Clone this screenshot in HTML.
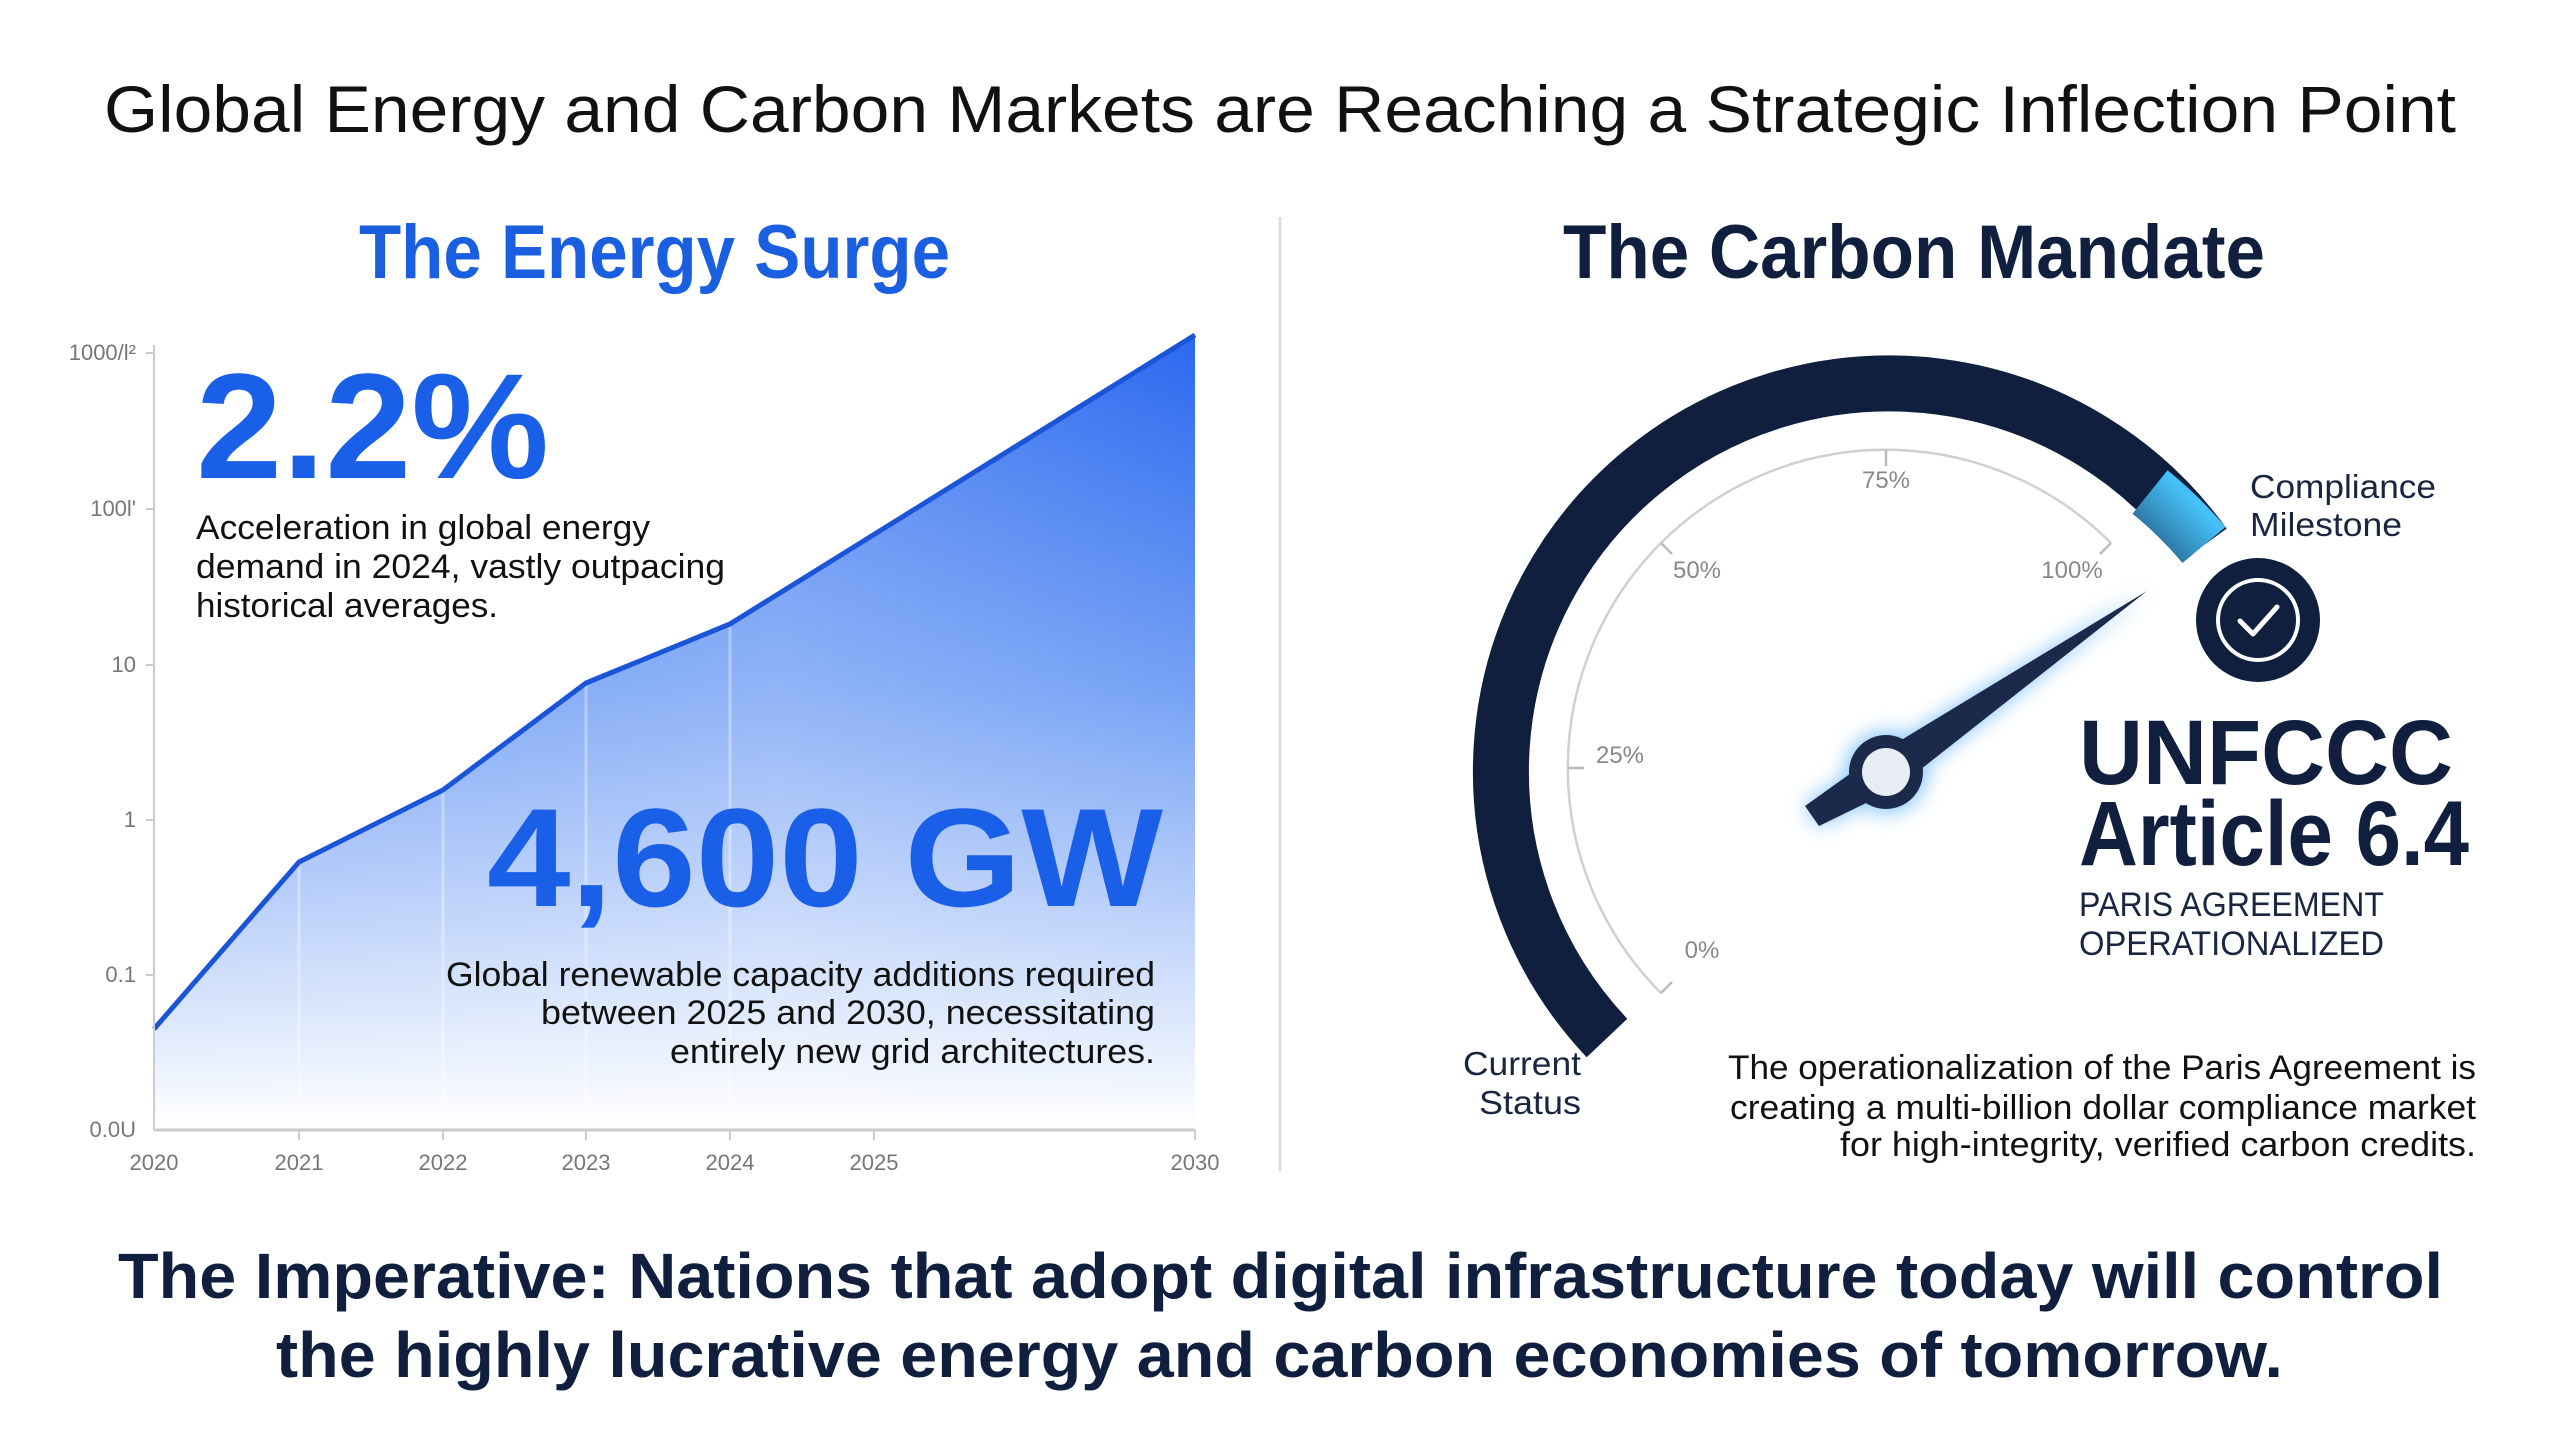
<!DOCTYPE html>
<html><head><meta charset="utf-8"><style>html,body{margin:0;padding:0;background:#fff}svg{display:block}</style></head>
<body>
<svg width="2560" height="1436" viewBox="0 0 2560 1436" xmlns="http://www.w3.org/2000/svg" font-family="'Liberation Sans', sans-serif">
<defs>
<linearGradient id="ag" x1="0" y1="335" x2="0" y2="1130" gradientUnits="userSpaceOnUse">
<stop offset="0" stop-color="#2a68ef"/><stop offset="0.45" stop-color="#76a2f5"/><stop offset="1" stop-color="#ffffff"/></linearGradient>
<linearGradient id="ah" x1="154" y1="0" x2="1195" y2="0" gradientUnits="userSpaceOnUse">
<stop offset="0" stop-color="#fff" stop-opacity="0"/><stop offset="0.6" stop-color="#fff" stop-opacity="0.2"/><stop offset="1" stop-color="#fff" stop-opacity="0"/></linearGradient>
<linearGradient id="cy" x1="2140" y1="610" x2="2220" y2="530" gradientUnits="userSpaceOnUse">
<stop offset="0" stop-color="#0f1f3d"/><stop offset="1" stop-color="#45c0f8"/></linearGradient>
<filter id="gl" x="-50%" y="-50%" width="200%" height="200%"><feGaussianBlur stdDeviation="10"/></filter>
</defs>
<rect width="2560" height="1436" fill="#fff"/>
<text x="1280" y="132" font-size="66" fill="#111" text-anchor="middle" textLength="2352" lengthAdjust="spacingAndGlyphs">Global Energy and Carbon Markets are Reaching a Strategic Inflection Point</text>
<line x1="1280" y1="217" x2="1280" y2="1171" stroke="#ddd" stroke-width="3"/>
<text x="359" y="278" font-size="76" font-weight="bold" fill="#1a5fe0" textLength="591" lengthAdjust="spacingAndGlyphs">The Energy Surge</text>
<text x="1563" y="278" font-size="76" font-weight="bold" fill="#0f1f3d" textLength="702" lengthAdjust="spacingAndGlyphs">The Carbon Mandate</text>

<polygon points="154,1029 299,862 443,790 586,683 730,624 1195,335 1195,1130 154,1130" fill="url(#ag)"/>
<polygon points="154,1029 299,862 443,790 586,683 730,624 1195,335 1195,1130 154,1130" fill="url(#ah)"/>
<g stroke="#fff" stroke-opacity="0.35" stroke-width="3">
<line x1="299" y1="862" x2="299" y2="1130"/><line x1="443" y1="790" x2="443" y2="1130"/><line x1="586" y1="683" x2="586" y2="1130"/><line x1="730" y1="624" x2="730" y2="1130"/></g>
<polyline points="154,1029 299,862 443,790 586,683 730,624 1195,335" fill="none" stroke="#1a55d8" stroke-width="5" stroke-linejoin="round"/>
<line x1="154" y1="345" x2="154" y2="1130" stroke="#ccc" stroke-width="2"/>
<line x1="154" y1="1130" x2="1195" y2="1130" stroke="#ccc" stroke-width="3"/>
<g stroke="#ccc" stroke-width="2">
<line x1="146" y1="353" x2="154" y2="353"/><line x1="146" y1="509" x2="154" y2="509"/><line x1="146" y1="665" x2="154" y2="665"/><line x1="146" y1="820" x2="154" y2="820"/><line x1="146" y1="975" x2="154" y2="975"/>
<line x1="299" y1="1130" x2="299" y2="1140"/><line x1="443" y1="1130" x2="443" y2="1140"/><line x1="586" y1="1130" x2="586" y2="1140"/><line x1="730" y1="1130" x2="730" y2="1140"/><line x1="874" y1="1130" x2="874" y2="1140"/><line x1="1195" y1="1130" x2="1195" y2="1140"/>
</g>
<g font-size="22" fill="#777" text-anchor="end">
<text x="136" y="360">1000/l²</text><text x="136" y="516">100l'</text><text x="136" y="672">10</text><text x="136" y="827">1</text><text x="136" y="982">0.1</text><text x="136" y="1137">0.0U</text></g>
<g font-size="22" fill="#777" text-anchor="middle">
<text x="154" y="1170">2020</text><text x="299" y="1170">2021</text><text x="443" y="1170">2022</text><text x="586" y="1170">2023</text><text x="730" y="1170">2024</text><text x="874" y="1170">2025</text><text x="1195" y="1170">2030</text></g>

<text x="196" y="478" font-size="150" font-weight="bold" fill="#1a5fe8" textLength="353" lengthAdjust="spacingAndGlyphs">2.2%</text>
<g font-size="34" fill="#111">
<text x="196" y="539" textLength="454" lengthAdjust="spacingAndGlyphs">Acceleration in global energy</text>
<text x="196" y="578" textLength="529" lengthAdjust="spacingAndGlyphs">demand in 2024, vastly outpacing</text>
<text x="196" y="617" textLength="302" lengthAdjust="spacingAndGlyphs">historical averages.</text>
</g>
<text x="487" y="906" font-size="140" font-weight="bold" fill="#1a5fe8" textLength="676" lengthAdjust="spacingAndGlyphs">4,600 GW</text>
<g font-size="34" fill="#111">
<text x="446" y="986" textLength="709" lengthAdjust="spacingAndGlyphs">Global renewable capacity additions required</text>
<text x="541" y="1024" textLength="614" lengthAdjust="spacingAndGlyphs">between 2025 and 2030, necessitating</text>
<text x="670" y="1063" textLength="485" lengthAdjust="spacingAndGlyphs">entirely new grid architectures.</text>
</g>

<path d="M1607 1038 A388 388 0 1 1 2204 545" fill="none" stroke="#0f1f3d" stroke-width="56"/>
<path d="M2150 492 A388 388 0 0 1 2204 545" fill="none" stroke="url(#cy)" stroke-width="56"/>
<path d="M1661 993 A318 318 0 1 1 2111 543" fill="none" stroke="#d0d0d0" stroke-width="2.5"/>
<g stroke="#bbb" stroke-width="2.5">
<line x1="1886" y1="450" x2="1886" y2="466"/><line x1="1661" y1="543" x2="1672" y2="554"/><line x1="2111" y1="543" x2="2100" y2="554"/><line x1="1568" y1="768" x2="1584" y2="768"/><line x1="1661" y1="993" x2="1672" y2="982"/></g>
<g font-size="24" fill="#888" text-anchor="middle">
<text x="1886" y="488">75%</text><text x="1697" y="578">50%</text><text x="2072" y="578">100%</text><text x="1620" y="763">25%</text><text x="1702" y="958">0%</text></g>
<g filter="url(#gl)" opacity="0.7"><polygon points="2147,591 1897,788 1819,826 1805,806 1875,756" fill="#4aa8f5"/><circle cx="1886" cy="772" r="40" fill="#4aa8f5"/></g>
<polygon points="2147,591 1897,788 1819,826 1805,806 1875,756" fill="#1b2a4a"/>
<circle cx="1886" cy="772" r="37" fill="#1b2a4a"/>
<circle cx="1886" cy="772" r="24" fill="#e8ecf3"/>
<circle cx="2258" cy="620" r="62" fill="#0f1f3d"/>
<circle cx="2258" cy="620" r="40" fill="none" stroke="#fff" stroke-width="4"/>
<path d="M2240 621 L2253 634 L2277 607" fill="none" stroke="#fff" stroke-width="5" stroke-linecap="round" stroke-linejoin="round"/>
<g font-size="33" fill="#1a2540">
<text x="2250" y="498" textLength="186" lengthAdjust="spacingAndGlyphs">Compliance</text>
<text x="2250" y="536" textLength="152" lengthAdjust="spacingAndGlyphs">Milestone</text>
<text x="1463" y="1075" textLength="118" lengthAdjust="spacingAndGlyphs">Current</text>
<text x="1479" y="1114" textLength="102" lengthAdjust="spacingAndGlyphs">Status</text>
</g>
<text x="2079" y="784" font-size="92" font-weight="bold" fill="#0f1f3d" textLength="374" lengthAdjust="spacingAndGlyphs">UNFCCC</text>
<text x="2079" y="865" font-size="92" font-weight="bold" fill="#0f1f3d" textLength="390" lengthAdjust="spacingAndGlyphs">Article 6.4</text>
<g font-size="34" fill="#1a2540">
<text x="2079" y="916" textLength="305" lengthAdjust="spacingAndGlyphs">PARIS AGREEMENT</text>
<text x="2079" y="955" textLength="305" lengthAdjust="spacingAndGlyphs">OPERATIONALIZED</text>
</g>
<g font-size="34" fill="#111">
<text x="1728" y="1079" textLength="748" lengthAdjust="spacingAndGlyphs">The operationalization of the Paris Agreement is</text>
<text x="1730" y="1119" textLength="746" lengthAdjust="spacingAndGlyphs">creating a multi-billion dollar compliance market</text>
<text x="1840" y="1156" textLength="636" lengthAdjust="spacingAndGlyphs">for high-integrity, verified carbon credits.</text>
</g>
<g font-size="64" font-weight="bold" fill="#0f1f3d">
<text x="118" y="1298" textLength="2325" lengthAdjust="spacingAndGlyphs">The Imperative: Nations that adopt digital infrastructure today will control</text>
<text x="276" y="1377" textLength="2007" lengthAdjust="spacingAndGlyphs">the highly lucrative energy and carbon economies of tomorrow.</text>
</g>
</svg>
</body></html>
